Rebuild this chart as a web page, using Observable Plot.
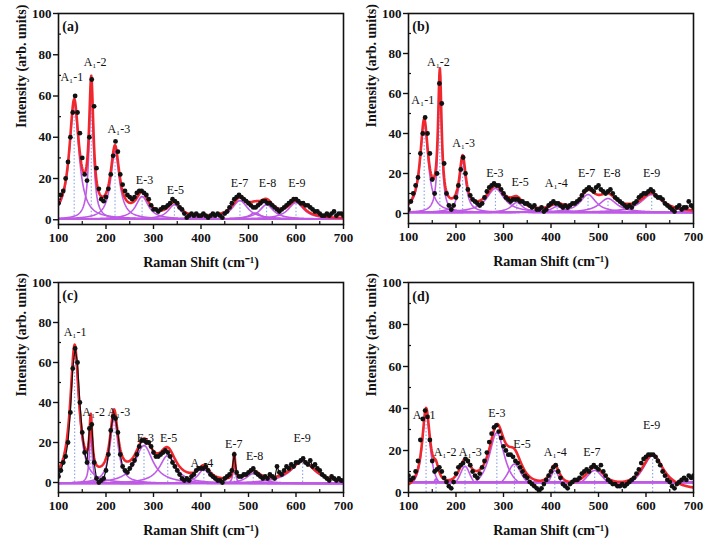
<!DOCTYPE html>
<html><head><meta charset="utf-8">
<script src="https://cdn.jsdelivr.net/npm/d3@7"></script>
<script src="https://cdn.jsdelivr.net/npm/@observablehq/plot@0.6"></script>
<style>
body{margin:0;background:#fff}
#root{position:relative;width:709px;height:545px;overflow:hidden;background:#fff}
.panel{position:absolute}
</style></head><body><div id="root"></div>
<script>
// ---- measured spectra, sampled every 5 cm-1 from 100 to 700 ----
const shiftGrid = d3.range(100, 701, 5);
const xTicks = [100, 200, 300, 400, 500, 600, 700];
const xMinor = [150, 250, 350, 450, 550, 650];
const yTicks = [0, 20, 40, 60, 80, 100];
const yMinor = [10, 30, 50, 70, 90];

const intensityA = [8,12,14,20,28,40,52,60,52,42, 30,22,19,40,68,55,25,15,10,9,
  11,15,22,31,38,33,22,17,14,12, 11,10,11,13,14,14,13,12,10,7, 5,5,4,5,6,6,7,8,10,9,
  8,6,5,3,1,2,3,2,3,2, 2,3,2,1,2,3,2,3,2,1, 3,4,6,8,10,11,12,11,10,9,
  8,7,6,6,7,8,9,9,8,8, 7,6,5,4,5,6,7,8,9,10, 10,9,8,8,7,7,6,5,4,4, 3,2,2,3,2,3,4,2,3,3, 2];
const intensityB = [2,6,10,14,18,30,40,48,40,30, 17,10,20,65,55,25,10,4,2,4,
  8,14,22,28,20,12,9,7,6,5, 4,5,8,11,13,14,15,14,14,12, 10,8,7,6,7,7,7,6,6,5,
  5,4,3,4,2,2,3,1,2,4, 5,6,5,5,4,3,4,3,4,5, 5,6,7,9,11,12,13,12,11,13,
  14,12,11,10,11,12,10,8,7,6, 5,4,3,4,3,5,6,8,9,10, 10,11,12,11,9,8,8,7,5,4, 3,2,1,3,4,2,3,3,6,4, 3];
const intensityC = [3,6,10,13,20,35,57,67,60,40, 25,15,10,27,29,10,2,0,1,2,
  6,14,26,33,32,25,14,8,6,5, 7,9,11,14,18,21,21,20,20,18, 15,13,13,14,15,16,15,13,10,8,
  6,4,2,1,2,1,3,4,6,7, 7,7,8,6,4,3,2,1,1,0, 2,3,4,6,14,5,3,3,4,4,
  5,6,7,5,4,3,2,3,2,4, 3,2,8,5,4,6,8,7,9,8, 10,10,11,12,10,9,11,8,9,7, 6,4,3,2,1,3,2,1,2,1, 1];
const intensityD = [8,6,7,10,15,25,35,39,36,25, 15,10,11,12,10,7,5,3,2,5,
  9,12,13,14,16,15,13,10,8,7, 9,12,15,19,24,28,31,32,29,26, 22,20,18,18,17,15,14,12,10,8,
  7,5,4,3,2,1,2,4,6,8, 10,12,13,10,7,4,3,2,4,5, 6,6,7,9,10,11,10,12,13,12,
  11,13,10,8,6,5,4,4,3,3, 4,3,4,5,6,7,9,11,14,16, 17,18,18,18,17,15,13,10,8,6, 5,3,2,4,5,6,7,6,8,7, 8];

// ---- fitted Lorentzian components: name, centre (cm-1), height, FWHM ----
const peakNamesA = ["A₁-1","A₁-2","A₁-3","E-3","E-5","E-7","","E-8","E-9"];
const peakCentersA = [133,169,219,276,344,482,514,538,600];
const peakHeightsA = [56,62,33,11,7,9,3,7,8];
const peakWidthsA = [24,11,22,32,32,40,30,36,40];
const fitBaseA = 0.3, compBaseA = 0.3;

const peakNamesB = ["A₁-1","A₁-2","A₁-3","E-3","E-5","A₁-4","E-7","E-8","E-9"];
const peakCentersB = [133,166,214,283,328,413,478,520,612];
const peakHeightsB = [45,67,26,12,5,3,9,7,9];
const peakWidthsB = [20,9,16,45,30,30,40,45,55];
const fitBaseB = 0.5, compBaseB = 0.5;

const peakNamesC = ["A₁-1","A₁-2","A₁-3","E-3","E-5","A₁-4","E-7","E-8","E-9"];
const peakCentersC = [134,168,217,280,330,406,470,510,614];
const peakHeightsC = [68,26,33,19,14,7,13,5,11];
const peakWidthsC = [22,7,20,45,42,30,5,35,60];
const fitBaseC = -0.5, compBaseC = -0.5;

const peakNamesD = ["A₁-1","A₁-2","A₁-3","E-3","E-5","A₁-4","E-7","E-9"];
const peakCentersD = [137,158,219,286,323,408,492,614];
const peakHeightsD = [38,6,12,28,13,10,10,17];
const peakWidthsD = [20,14,30,40,40,25,50,55];
const fitBaseD = 0.5, compBaseD = 4.8;

// ---- peak labels (data coordinates) ----
const labelTextA = ["A₁-1","A₁-2","A₁-3","E-3","E-5","E-7","E-8","E-9"];
const labelXA = [128,177,227,281,346,481,540,602];
const labelYA = [69,76.5,44,19,14.5,17.7,17.7,17.7];
const labelTextB = ["A₁-1","A₁-2","A₁-3","E-3","E-5","A₁-4","E-7","E-8","E-9"];
const labelXB = [130,163,216,282,335,411,475,528,612];
const labelYB = [56.7,75.8,35,20,15.8,15.3,20,20,20];
const labelTextC = ["A₁-1","A₁-2","A₁-3","E-3","E-5","A₁-4","E-7","E-8","E-9"];
const labelXC = [135,174,227,283,332,402,469,513,613];
const labelYC = [75,35,35,22,22,9.8,19,13,22];
const labelTextD = ["A₁-1","A₁-2","A₁-3","E-3","E-5","A₁-4","E-7","E-9"];
const labelXD = [133,177,230,286,339,409,486,612];
const labelYD = [36.8,19.4,19.4,38,23,19,19,32];

const panelTags = ["(a)","(b)","(c)","(d)"];
const xTitle = "Raman Shift (cm⁻¹)";
const yTitle = "Intensity (arb. units)";

function lorentz(x, c, h, w) { return h / (1 + ((x - c) / (w / 2)) ** 2); }

function makePanel(o) {
  const grid = d3.range(100, 700.01, 1);
  const comps = [];
  o.centers.forEach((c, i) => grid.forEach(x => comps.push({k: i, x, y: Math.max(o.compBase, o.fitBase + lorentz(x, c, o.heights[i], o.widths[i]))})));
  const fit = grid.map(x => ({x, y: o.fitBase + d3.sum(o.centers, (c, i) => lorentz(x, c, o.heights[i], o.widths[i]))}));
  const pts = shiftGrid.map((x, i) => ({x, y: o.intensity[i]}));
  const drops = o.centers.map((c, i) => ({x: c, top: o.fitBase + o.heights[i], name: o.names[i]})).filter(d => d.name);
  const labels = o.ltext.map((t, i) => ({t, x: o.lx[i], y: o.ly[i]}));
  const marks = [
    Plot.ruleX(drops, {x: "x", y1: 0, y2: "top", stroke: "#8ca0e6", strokeWidth: 1.1, strokeDasharray: "1.5,2", clip: true}),
    Plot.line(comps, {x: "x", y: "y", z: "k", stroke: "#be5ae6", strokeWidth: 1.6, clip: true}),
    Plot.line(fit, {x: "x", y: "y", stroke: "#f0282d", strokeWidth: 2.6, clip: true})
  ];
  if (o.connect) marks.push(Plot.line(pts, {x: "x", y: "y", stroke: "#111", strokeWidth: 1.2, clip: true}));
  marks.push(
    Plot.dot(pts, {x: "x", y: "y", r: 2.4, fill: "#111", stroke: "none", clip: true}),
    Plot.text(labels, {x: "x", y: "y", text: "t", fontSize: 12, fill: "#111"}),
    Plot.text([o.tag], {x: 108, y: 93.5, text: d => d, textAnchor: "start", fontSize: 14, fontWeight: "bold", fill: "#111"}),
    Plot.frame({stroke: "#111", strokeWidth: 1.6}),
    Plot.axisX({ticks: xTicks, tickSize: 5, tickPadding: 3, fontSize: 13, fontWeight: "bold", label: null, strokeWidth: 1.4, stroke: "#111", fill: "#111"}),
    Plot.axisX({ticks: xMinor, tickSize: -3, tickFormat: () => "", label: null, strokeWidth: 1.2, stroke: "#111"}),
    Plot.axisY({ticks: yTicks, tickSize: 5, tickPadding: 2, fontSize: 13, fontWeight: "bold", label: null, strokeWidth: 1.4, stroke: "#111", fill: "#111"}),
    Plot.axisY({ticks: yMinor, tickSize: -3, tickFormat: () => "", label: null, strokeWidth: 1.2, stroke: "#111"}),
    Plot.text([xTitle], {frameAnchor: "bottom", dy: 42, text: d => d, fontSize: 14, fontWeight: "bold", fill: "#111", lineAnchor: "bottom"}),
    Plot.text([yTitle], {frameAnchor: "left", dx: -42, dy: 9, rotate: -90, text: d => d, fontSize: 14, fontWeight: "bold", fill: "#111", lineAnchor: "top"})
  );
  const svg = Plot.plot({
    width: o.w, height: o.h,
    marginLeft: 58, marginRight: o.mr, marginTop: o.mt, marginBottom: o.mb,
    x: {domain: [100, 700]},
    y: {domain: o.ydomain},
    style: {fontFamily: "'Liberation Serif', 'Times New Roman', serif", background: "transparent", color: "#111", overflow: "visible"},
    marks
  });
  const div = document.createElement("div");
  div.className = "panel";
  div.style.left = o.left + "px";
  div.style.top = o.top + "px";
  div.appendChild(svg);
  document.getElementById("root").appendChild(div);
}

makePanel({tag: panelTags[0], intensity: intensityA, names: peakNamesA, centers: peakCentersA, heights: peakHeightsA, widths: peakWidthsA, fitBase: fitBaseA, compBase: compBaseA,
  ltext: labelTextA, lx: labelXA, ly: labelYA, ydomain: [-2.3, 100], left: 0, top: 0, w: 356, h: 272, mr: 13, mt: 13, mb: 48});
makePanel({tag: panelTags[1], intensity: intensityB, names: peakNamesB, centers: peakCentersB, heights: peakHeightsB, widths: peakWidthsB, fitBase: fitBaseB, compBase: compBaseB,
  ltext: labelTextB, lx: labelXB, ly: labelYB, ydomain: [-5, 100], left: 350, top: 0, w: 359, h: 272, mr: 16, mt: 13, mb: 49});
makePanel({tag: panelTags[2], intensity: intensityC, names: peakNamesC, centers: peakCentersC, heights: peakHeightsC, widths: peakWidthsC, fitBase: fitBaseC, compBase: compBaseC,
  ltext: labelTextC, lx: labelXC, ly: labelYC, ydomain: [-5, 100], left: 0, top: 270, w: 356, h: 275, mr: 13, mt: 12, mb: 53, connect: true});
makePanel({tag: panelTags[3], intensity: intensityD, names: peakNamesD, centers: peakCentersD, heights: peakHeightsD, widths: peakWidthsD, fitBase: fitBaseD, compBase: compBaseD,
  ltext: labelTextD, lx: labelXD, ly: labelYD, ydomain: [0, 100], left: 350, top: 270, w: 359, h: 275, mr: 16, mt: 12, mb: 53});
</script></body></html>
